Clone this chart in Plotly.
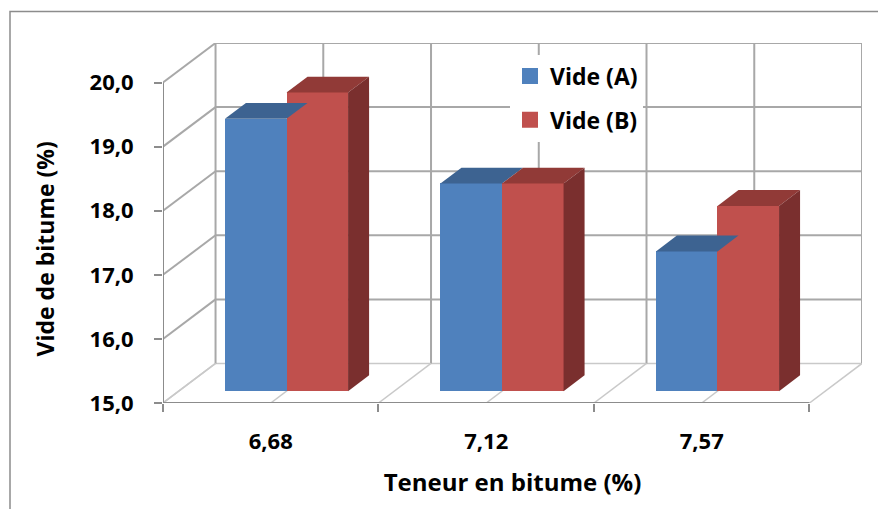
import plotly.graph_objects as go

# ---- data ----
categories = ["6,68", "7,12", "7,57"]
vide_a = [19.25, 18.24, 17.18]
vide_b = [19.66, 18.24, 17.89]
series_names = ["Vide (A)", "Vide (B)"]
y_ticks = [15, 16, 17, 18, 19, 20]
x_title = "Teneur en bitume (%)"
y_title = "Vide de bitume (%)"

# ---- 3D-look geometry (oblique projection) ----
n = len(categories)
y_min, y_max = y_ticks[0], y_ticks[-1]
dxu = 0.2438            # depth offset in category units
dyu = 0.6167            # depth offset in value units
f1, f2 = 0.30, 0.70     # bar front / back depth fractions
bw = 1 / 3.5            # bar width (gap width 150%)

FONT = "Open Sans"
BLUE, BLUE_TOP = "#4F81BD", "#3D6391"
RED, RED_TOP, RED_SIDE = "#C0504D", "#913A37", "#7A2F2E"
GRID = "#A8A8A8"
FLOOR = "#C9C9C9"
AXIS = "#8C8C8C"

fig = go.Figure()

# ---- walls / floor / gridlines as shapes beneath the data ----
shapes = []
def line(x0, y0, x1, y1, color, width):
    shapes.append(dict(type="line", xref="x", yref="y", x0=x0, y0=y0, x1=x1, y1=y1,
                       line=dict(color=color, width=width), layer="below"))

for v in y_ticks:
    if v == y_min:
        line(dxu, v + dyu, n + dxu, v + dyu, FLOOR, 1.5)
        line(0, v, dxu, v + dyu, FLOOR, 1.5)
    else:
        line(dxu, v + dyu, n + dxu, v + dyu, GRID, 2)
        line(0, v, dxu, v + dyu, GRID, 2)
for k in range(2 * n + 1):
    xv = k * 0.5
    line(xv + dxu, y_min + dyu, xv + dxu, y_max + dyu, GRID, 2)
    line(xv, y_min, xv + dxu, y_min + dyu, FLOOR, 1.5)
line(0, y_min, n, y_min, AXIS, 2)
line(0, y_min, 0, y_max, AXIS, 2)

# outer chart border
shapes.append(dict(type="rect", xref="paper", yref="paper",
                   x0=(10 - 163) / 699, x1=1.2, y0=-0.4, y1=(403.5 - 12) / 360,
                   line=dict(color="#8C8C8C", width=1.5), fillcolor="rgba(0,0,0,0)",
                   layer="below"))

# ---- bar front faces ----
centers = [i + 0.5 for i in range(n)]
front_x = [c + f1 * dxu for c in centers]
base = y_min + f1 * dyu
for vals, col, off in [(vide_a, BLUE, -bw), (vide_b, RED, 0.0)]:
    fig.add_trace(go.Bar(
        x=front_x, y=[v - y_min for v in vals], base=base,
        width=bw, offset=off, marker=dict(color=col, line=dict(width=0)),
        showlegend=False, hoverinfo="skip"))

# ---- bar top and side faces ----
ddx = (f2 - f1) * dxu
ddy = (f2 - f1) * dyu
for vals, top_col, side_col, off, draw_side in [
        (vide_a, BLUE_TOP, None, -bw, False),
        (vide_b, RED_TOP, RED_SIDE, 0.0, True)]:
    for fx, v in zip(front_x, vals):
        xl, xr = fx + off, fx + off + bw
        yt = v + f1 * dyu
        fig.add_trace(go.Scatter(
            x=[xl, xr, xr + ddx, xl + ddx, xl],
            y=[yt, yt, yt + ddy, yt + ddy, yt],
            fill="toself", fillcolor=top_col, mode="lines",
            line=dict(width=0, color=top_col), showlegend=False, hoverinfo="skip"))
        if draw_side:
            fig.add_trace(go.Scatter(
                x=[xr, xr, xr + ddx, xr + ddx, xr],
                y=[base, yt, yt + ddy, base + ddy, base],
                fill="toself", fillcolor=side_col, mode="lines",
                line=dict(width=0, color=side_col), showlegend=False, hoverinfo="skip"))

# ---- legend entries ----
for name, col in zip(series_names, [BLUE, RED]):
    fig.add_trace(go.Scatter(
        x=[None], y=[None], mode="markers", name=name, legendgroup=name,
        marker=dict(symbol="square", size=16, color=col)))

# invisible trace for the tick-mark axis
fig.add_trace(go.Scatter(x=[0], y=[y_min], xaxis="x2", mode="markers",
                         marker=dict(opacity=0), showlegend=False, hoverinfo="skip"))

fig.update_layout(
    width=878, height=501,
    margin=dict(l=155, r=24, t=35, b=106),
    paper_bgcolor="white", plot_bgcolor="white",
    separators=",.",
    shapes=shapes,
    font=dict(family=FONT, color="black"),
    bargap=0, barmode="overlay",
    showlegend=True,
    legend=dict(x=(510 - 163) / 699, y=(403.5 - 55) / 360, xanchor="left", yanchor="top",
                bgcolor="white", borderwidth=0, tracegroupgap=11,
                font=dict(family=FONT, size=23, weight="bold", color="black")),
    xaxis=dict(range=[0, n + dxu], tickvals=centers, ticktext=categories,
               ticks="", showgrid=False, zeroline=False, showline=False,
               tickfont=dict(family=FONT, size=22, weight="bold", color="black"),
               ticklabelstandoff=23,
               title=dict(text=x_title, standoff=20,
                          font=dict(family=FONT, size=24, weight="bold", color="black")),
               automargin=False),
    xaxis2=dict(range=[0, n + dxu], overlaying="x", anchor="y", side="bottom",
                tickvals=list(range(n + 1)), ticks="outside", ticklen=8, tickwidth=2,
                tickcolor=AXIS, showticklabels=False, showgrid=False, zeroline=False,
                showline=False),
    yaxis=dict(range=[y_min, y_max + dyu], tickvals=y_ticks, tickformat=".1f",
               ticks="outside", ticklen=8, tickwidth=2, tickcolor=AXIS,
               showgrid=False, zeroline=False, showline=False,
               tickfont=dict(family=FONT, size=22, weight="bold", color="black"),
               ticklabelstandoff=16, automargin=False),
    annotations=[dict(text=y_title, textangle=-90, xref="paper", yref="paper",
                      x=(44 - 163) / 699, y=(403.5 - 250) / 360,
                      xanchor="center", yanchor="middle", showarrow=False,
                      font=dict(family=FONT, size=23, weight="bold", color="black"))],
)

fig.write_html("out.html")
